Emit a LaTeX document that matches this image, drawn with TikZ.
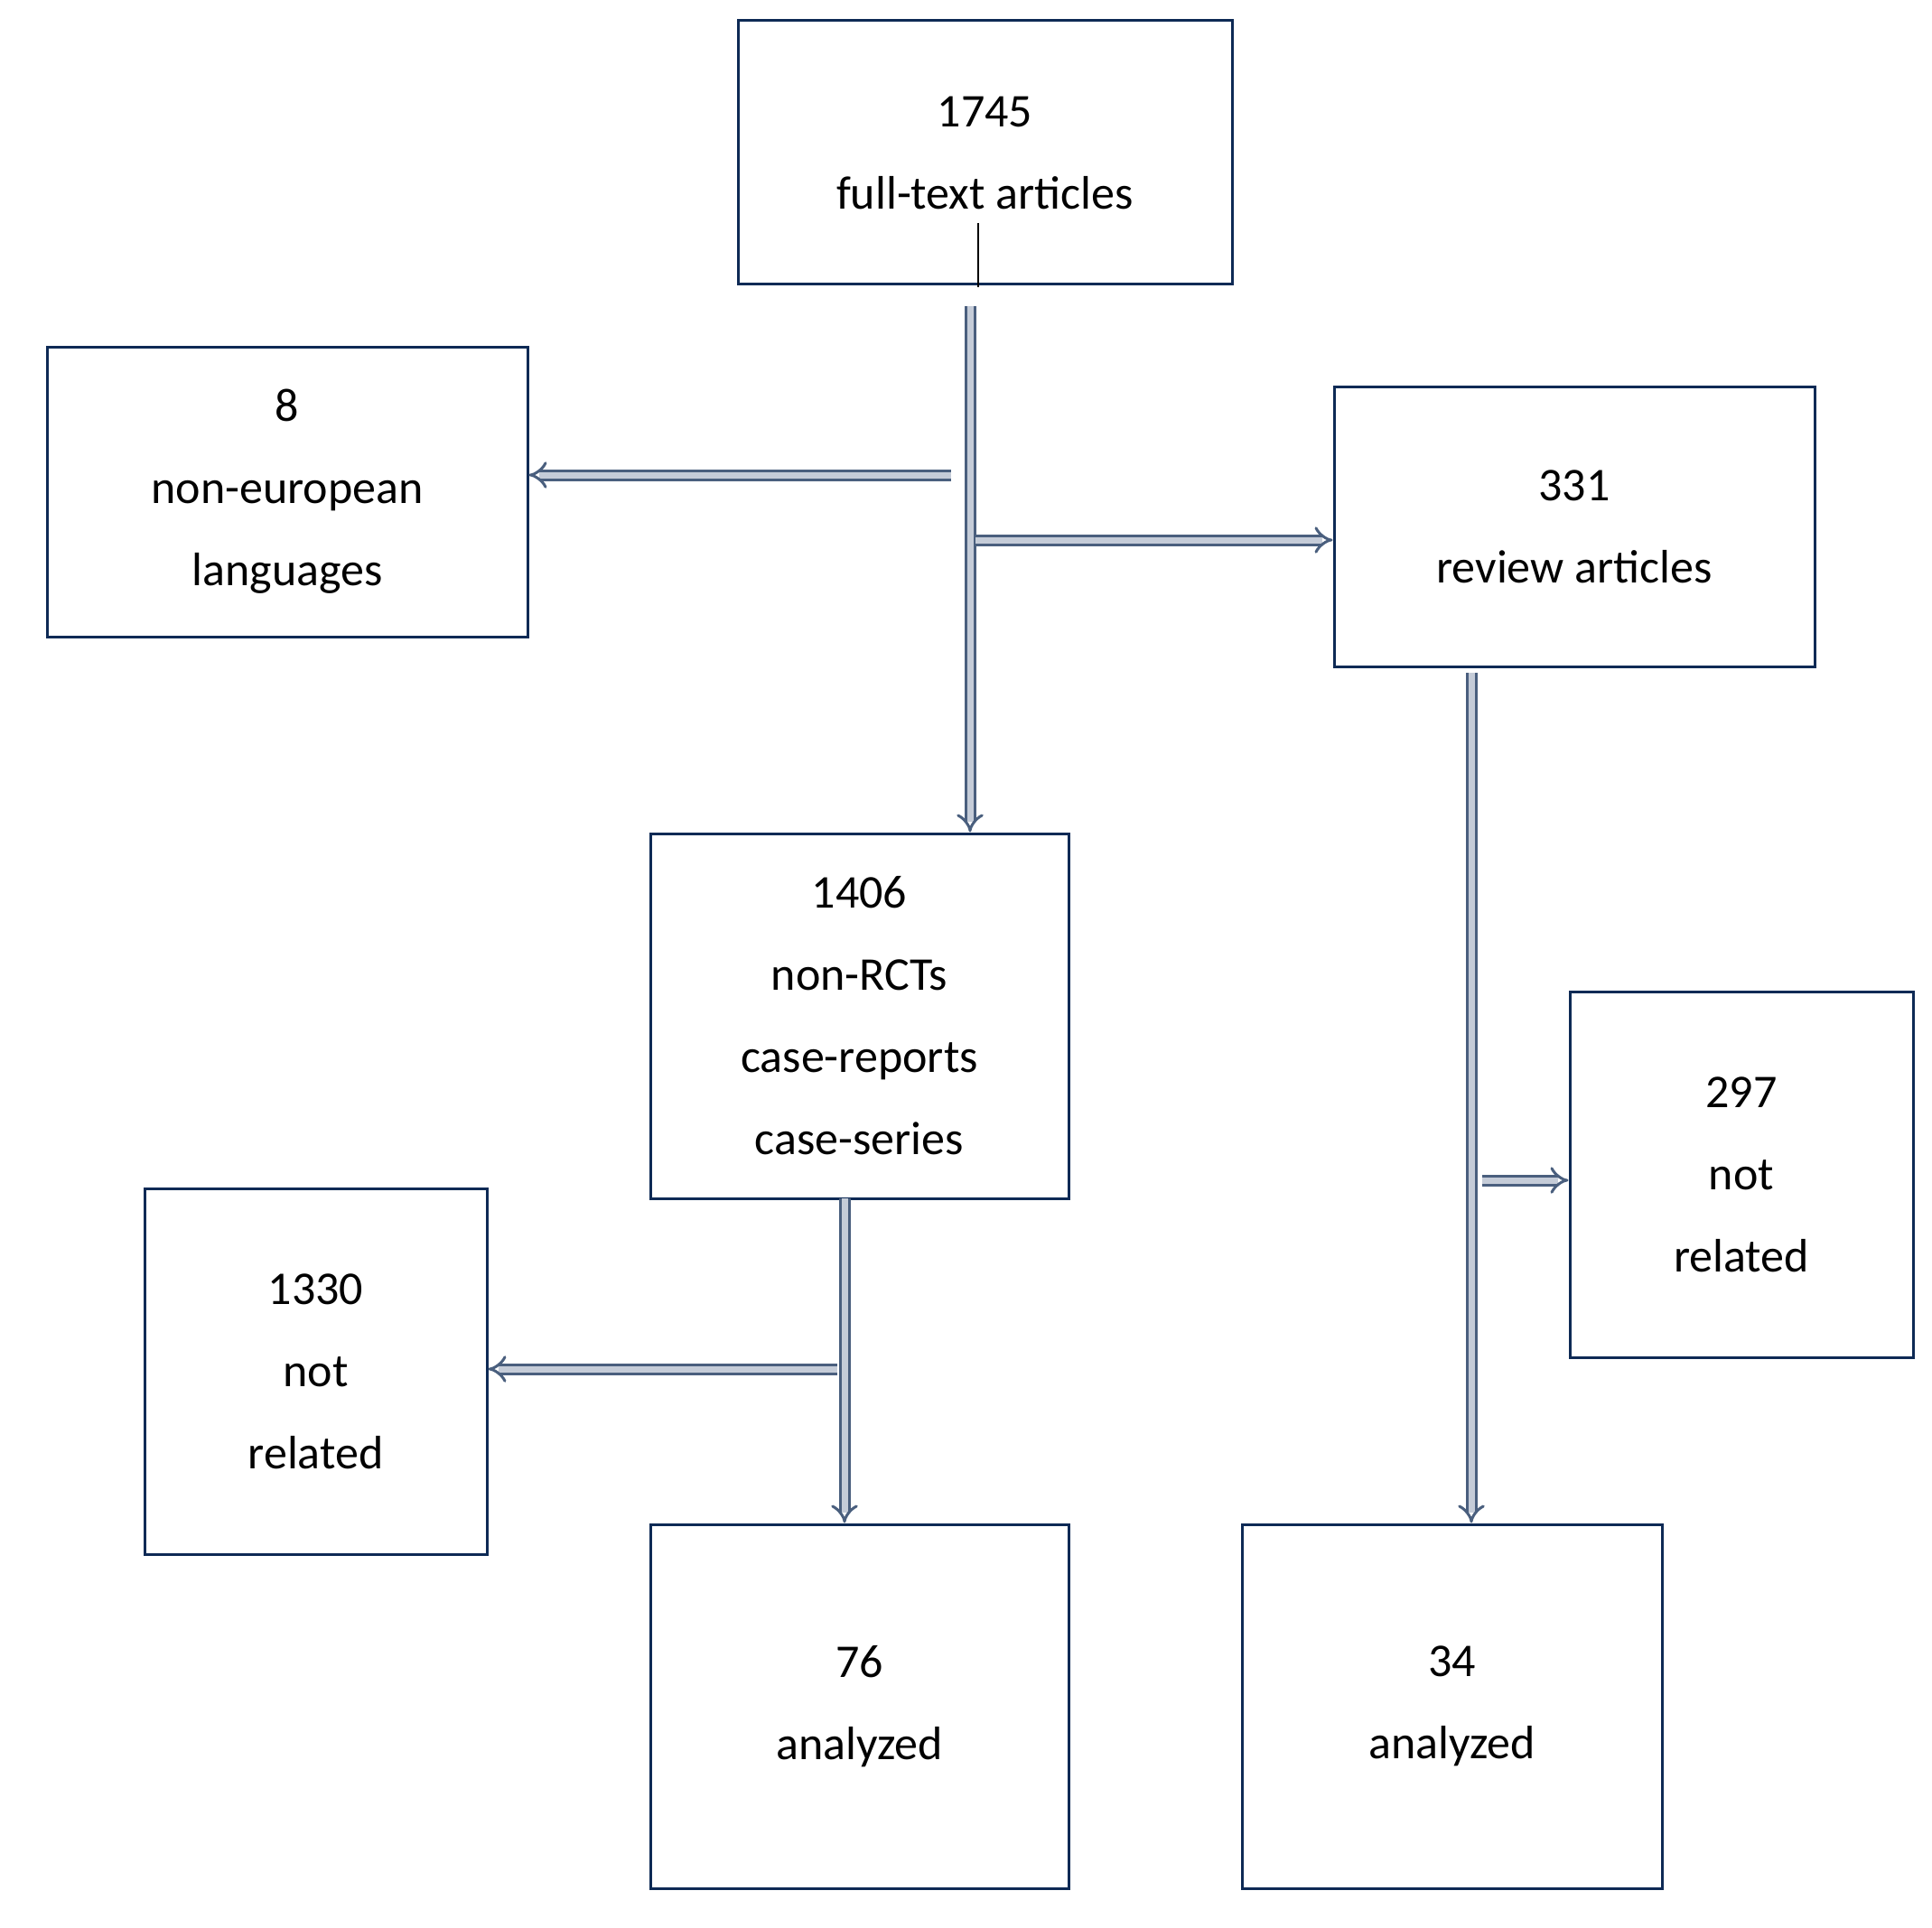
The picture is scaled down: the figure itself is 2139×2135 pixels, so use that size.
\documentclass[tikz,border=0pt]{standalone}
\usepackage{fontspec}
\setmainfont{Carlito}
\usetikzlibrary{arrows.meta}
\begin{document}
\begin{tikzpicture}[x=1pt,y=-1pt,
  box/.style={draw=boxc,line width=3pt,inner sep=0pt,align=center,font=\fontsize{52}{91}\selectfont},
  flow/.style={draw=arrc,line width=3pt,double=arrf,double distance=7pt,-{Implies}}]
\definecolor{boxc}{HTML}{0E2A55}
\definecolor{arrc}{HTML}{4A5F7E}
\definecolor{arrf}{HTML}{C5CCD8}
\useasboundingbox (0,0) rectangle (2139,2135);
\newcommand\bx[6]{\node[box,minimum width=#4-#2,minimum height=#5-#3] (#1) at ({(#2+#4)/2},{(#3+#5)/2}) {#6};}
\bx{top}{817}{23}{1364}{315}{1745\\full-text articles}
\bx{lang}{52}{384}{584}{705}{8\\non-european\\languages}
\bx{rev}{1477}{428}{2009}{738}{331\\review articles}
\bx{non}{720}{923}{1183}{1327}{1406\\non-RCTs\\case-reports\\case-series}
\bx{nr1}{160}{1316}{539}{1721}{1330\\not\\related}
\bx{nr2}{1738}{1098}{2118}{1503}{297\\not\\related}
\bx{a76}{720}{1688}{1183}{2091}{76\\analyzed}
\bx{a34}{1375}{1688}{1840}{2091}{34\\analyzed}
\coordinate (t1) at (1083,247);
\coordinate (t2) at (1083,318);
\draw[line width=2pt] (t1) -- (t2);
\coordinate (v1) at (1074,339);
\coordinate (j1) at (1053,526);
\coordinate (j2) at (1080,598);
\coordinate (v2) at (935,1327);
\coordinate (j3) at (927,1516);
\coordinate (v3) at (1629,745);
\coordinate (j4) at (1641,1307);
\draw[flow] (v1) -- (non.north -| v1);
\draw[flow] (j1) -- (lang.east |- j1);
\draw[flow] (j2) -- (rev.west |- j2);
\draw[flow] (v2) -- (a76.north -| v2);
\draw[flow] (j3) -- (nr1.east |- j3);
\draw[flow] (v3) -- (a34.north -| v3);
\draw[flow] (j4) -- (nr2.west |- j4);
\end{tikzpicture}
\end{document}
